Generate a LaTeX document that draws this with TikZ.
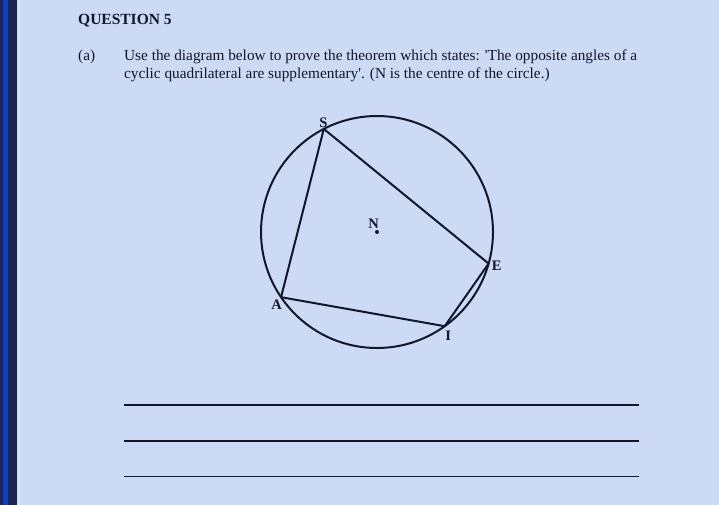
\documentclass[tikz,border=0pt]{standalone}
\usepackage{fontspec}
\setmainfont{Liberation Serif}
\usetikzlibrary{calc}
\definecolor{bgblue}{HTML}{CCDAF6}
\definecolor{navy}{HTML}{1D2550}
\definecolor{stripeblue}{HTML}{0E40C2}
\definecolor{ink}{HTML}{12162A}
\definecolor{paleline}{HTML}{D8E2F8}
\begin{document}
\begin{tikzpicture}[x=1pt,y=-1pt,
  fig/.style={draw=ink,line width=2pt},
  lab/.style={text=ink,font=\fontsize{14.5}{14}\selectfont\bfseries,inner sep=0pt},
  body/.style={text=ink,font=\fontsize{15.3}{18}\selectfont,anchor=base west,inner sep=0pt},
  ansline/.style={draw=ink,line width=1.3pt}]
\useasboundingbox (0,0) rectangle (719,505);
\fill[bgblue] (0,0) rectangle (719,505);
% left stripe
\fill[navy] (0,0) rectangle (17,505);
\fill[stripeblue] (2.7,0) rectangle (8.3,505);
\fill[paleline] (18,0) rectangle (19.5,505);
% texts
\node[body,font=\fontsize{15.5}{18}\selectfont\bfseries] (title) at (78,25) {QUESTION 5};
\node[body] (parta) at (78,60.5) {(a)};
\node[body] (l1) at (124,60.5) {Use the diagram below to prove the theorem which states: \textquotesingle The opposite angles of a};
\node[body] (l2) at (124,78.5) {cyclic quadrilateral are supplementary\textquotesingle. (N is the centre of the circle.)};
% circle
\coordinate (N) at (377,232);
\draw[fig] (N) circle[radius=116pt];
\coordinate (S) at ($(N)+(-117.3:116)$);
\coordinate (E) at ($(N)+(15.8:116)$);
\coordinate (I) at ($(N)+(54.3:116)$);
\coordinate (A) at ($(N)+(145.8:116)$);
\draw[fig,line join=round] (S) -- (E) -- (I) -- (A) -- cycle;
\fill[ink] (N) circle[radius=2pt];
\node[lab] (Sl) at (323.5,122.8) {S};
\node[lab] (El) at (496.7,265.7) {E};
\node[lab] (Il) at (448.3,335.8) {I};
\node[lab] (Al) at (276.7,304.6) {A};
\node[lab] (Nl) at (373.5,224) {N};
% answer lines
\coordinate (a1) at (124,405); \coordinate (b1) at (639,405);
\coordinate (a2) at (124,441); \coordinate (b2) at (639,441);
\coordinate (a3) at (124,476.5); \coordinate (b3) at (639,476.5);
\draw[ansline] (a1) -- (b1);
\draw[ansline] (a2) -- (b2);
\draw[ansline] (a3) -- (b3);
\end{tikzpicture}
\end{document}
